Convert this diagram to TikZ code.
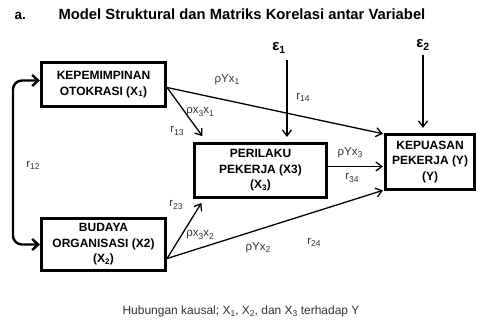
\documentclass[tikz,border=0pt]{standalone}
\usepackage{fontspec}
\setmainfont{Liberation Sans}
\usetikzlibrary{arrows.meta}
\newcommand\sbs[1]{\raisebox{-0.35ex}{\fontsize{8.5}{9}\selectfont #1}}
\tikzset{
  varbox/.style={draw, line width=3.1pt, align=center, inner sep=0pt,
    font=\bfseries\fontsize{12}{15.5}\selectfont},
  link/.style={line width=1.3pt, -{Straight Barb[length=6pt,width=9pt]}, shorten >=1pt},
  corr/.style={line width=2.4pt, rounded corners=9pt,
    {Straight Barb[length=6pt,width=11pt]}-{Straight Barb[length=6pt,width=11pt]}},
  coef/.style={inner sep=0pt, text=black!80, font=\fontsize{11.5}{12}\selectfont},
  eps/.style={inner sep=1pt, font=\bfseries\fontsize{15}{16}\selectfont},
}
\begin{document}
\begin{tikzpicture}[x=1pt,y=-1pt]
			%%%%% START %%%%%
			\useasboundingbox (0,0) rectangle (478,320);
			
			\node[anchor=base west, font=\bfseries\fontsize{13.5}{14}\selectfont] (tag) at (11,20) {a.};
			\node[anchor=base west, font=\bfseries\fontsize{14.8}{15}\selectfont] (title) at (55,20) {Model Struktural dan Matriks Korelasi antar Variabel};
			
			\node[varbox, minimum width=124pt, minimum height=44pt] (X1) at (103.5,84.5) {KEPEMIMPINAN\\OTOKRASI (X\textsubscript{1})};
			\node[varbox, minimum width=132pt, minimum height=54pt] (X3) at (260.5,170.5) {PERILAKU\\PEKERJA (X3)\\(X\textsubscript{3})};
			\node[varbox, minimum width=89pt, minimum height=55pt] (Y) at (430,162) {KEPUASAN\\PEKERJA (Y)\\(Y)};
			\node[varbox, minimum width=124pt, minimum height=52pt] (X2) at (103.5,244.5) {BUDAYA\\ORGANISASI (X2)\\(X\textsubscript{2})};
			
			\node[eps] (e1) at (279,48) {ε\textsubscript{1}};
			\node[eps] (e2) at (423,45) {ε\textsubscript{2}};
			
			\draw[corr] ([yshift=4pt]X1.west) -| ([xshift=-27pt]X2.west) -- (X2.west);
			
			\draw[link] ([yshift=-3pt]X1.east) -- ([yshift=-1pt]Y.north west);
			\draw[link] ([yshift=-3pt]X1.east) -- ([xshift=10pt,yshift=5pt]X3.north west);
			\draw[link, shorten <=6pt, shorten >=5pt] (e1.south east) -- (e1.south east |- X3.north);
			\draw[link, shorten <=4pt, shorten >=5pt] (e2.south) -- (e2.south |- Y.north);
			\draw[link] ([yshift=4pt]X3.east) -- ([yshift=4pt]X3.east -| Y.west);
			\draw[link] ([yshift=-14pt]X2.east) -- ([xshift=9pt,yshift=-3pt]X3.south west);
			\draw[link] ([yshift=-14pt]X2.east) -- ([yshift=1pt]Y.south west);
			
			\node[coef] (pyx1) at (227,80) {ρYx\sbs{1}};
			\node[coef] (px3x1) at (200,112) {ρx\sbs{3}x\sbs{1}};
			\node[coef] (r13) at (177,131) {r\sbs{13}};
			\node[coef] (r14) at (303,97) {r\sbs{14}};
			\node[coef] (r12) at (33,165) {r\sbs{12}};
			\node[coef] (pyx3) at (350,153) {ρYx\sbs{3}};
			\node[coef] (r34) at (352,178) {r\sbs{34}};
			\node[coef] (r23) at (176,205) {r\sbs{23}};
			\node[coef] (px3x2) at (200,235) {ρx\sbs{3}x\sbs{2}};
			\node[coef] (pyx2) at (258,248) {ρYx\sbs{2}};
			\node[coef] (r24) at (314,242) {r\sbs{24}};
			
			\node[coef, font=\fontsize{12}{13}\selectfont] (caption) at (241,311) {Hubungan kausal; X\sbs{1}, X\sbs{2}, dan X\sbs{3} terhadap Y};
			%%%%% END %%%%%
\end{tikzpicture}
\end{document}
